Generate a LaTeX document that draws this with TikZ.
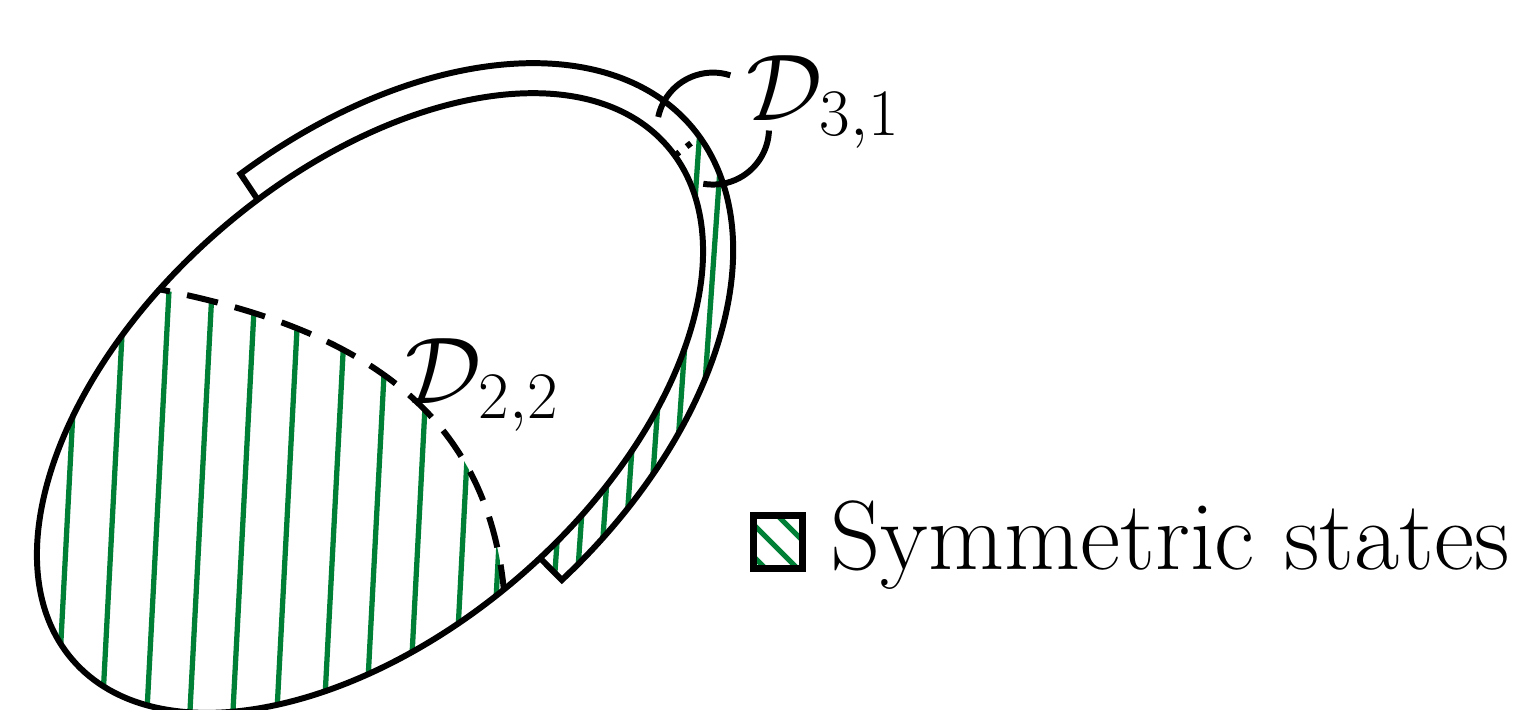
\RequirePackage{fix-cm}
\documentclass[tikz,border=0pt]{standalone}
\usetikzlibrary{calc}
\definecolor{hgreen}{RGB}{0,128,54}
\tikzset{
  bd/.style={line width=1.7pt},
  hatch/.style={draw=hgreen, line width=1.5pt},
  dsh/.style={line width=1.7pt, dash pattern=on 9pt off 5pt, dash phase=6pt},
  dtt/.style={line width=1.7pt, dash pattern=on 1.6pt off 2.6pt},
  lbl/.style={inner sep=0pt, font=\fontsize{27}{32}\selectfont},
}
\begin{document}
\begin{tikzpicture}
\useasboundingbox (0,0) rectangle (15.15,7.10);
\def\ea{3.93}\def\eb{2.29}\def\oa{4.24}\def\ob{2.60}\def\rot{40.8}
\coordinate (C) at (3.70,3.07);
\begin{scope}[shift={(C)},rotate=\rot]
  \coordinate (P0) at ({\ea*cos(102.5)},{\eb*sin(102.5)});
  \coordinate (P3) at ({\ea*cos(-93)},{\eb*sin(-93)});
  \coordinate (Di) at ({\ea*cos(-3)},{\eb*sin(-3)});
  \coordinate (Do) at ({\oa*cos(-3)},{\ob*sin(-3)});
\end{scope}
\coordinate (P1) at (3.365,3.857);
\coordinate (P2) at (4.846,3.14);
% main hatched region
\begin{scope}
  \clip[rotate around={\rot:(C)}] (C) ellipse[x radius=\ea, y radius=\eb];
  \clip (-1,4.60) -- (P0) .. controls (P1) and (P2) .. (P3) -- (6.2,-1) -- (-1,-1) -- cycle;
  \foreach \x in {0.631,1.081,1.528,1.958,2.388,2.828,3.301,3.722,4.149,4.596,4.96}{
    \draw[hatch] ({\x-0.0524*2.1},-1) -- ({\x+0.0524*6.9},8);
  }
\end{scope}
% band hatched region
\begin{scope}
  \clip[shift={(C)},rotate=\rot] ({\ea*cos(-3)},{\eb*sin(-3)})
      arc[start angle=-3, end angle=-86, x radius=\ea, y radius=\eb]
      -- ({\oa*cos(-86)},{\ob*sin(-86)})
      arc[start angle=-86, end angle=-3, x radius=\oa, y radius=\ob] -- cycle;
  \foreach \k in {-4,...,8}{
    \draw[hatch] ({5.67+0.228*\k-0.07*4.1},-1) -- ({5.67+0.228*\k+0.07*4.9},8);
  }
\end{scope}
% inner ellipse
\draw[bd, rotate around={\rot:(C)}] (C) ellipse[x radius=\ea, y radius=\eb];
% band outline
\draw[bd, shift={(C)}, rotate=\rot, line join=miter]
  ({\ea*cos(83)},{\eb*sin(83)}) -- ({\oa*cos(83)},{\ob*sin(83)})
  arc[start angle=83, end angle=-86, x radius=\oa, y radius=\ob]
  -- ({\ea*cos(-86)},{\eb*sin(-86)});
% dotted boundary in band
\draw[dtt] (Di) -- (Do);
% dashed boundary
\draw[dsh] (P0) .. controls (P1) and (P2) .. (P3);
% D_{3,1} circle arcs
\coordinate (c31) at (7.13,5.814);
\draw[bd] ([shift={(168:0.56)}]c31) arc[start angle=168, end angle=72, radius=0.56];
\draw[bd] ([shift={(-2:0.56)}]c31) arc[start angle=-2, end angle=-100, radius=0.56];
% labels
\node[lbl, anchor=base west] (d31) at (7.46,5.89) {$\mathcal{D}_{3,1}$};
\node[lbl, anchor=base west] (d22) at (4.05,3.06) {$\mathcal{D}_{2,2}$};
% legend
\begin{scope}
  \clip (7.535,1.415) rectangle (8.025,1.945);
  \foreach \c in {1.92,1.59,1.27}{
    \draw[hatch] ($(7.80,\c)+(-1,1)$) -- ($(7.80,\c)+(1,-1)$);
  }
\end{scope}
\draw[line width=2pt] (7.535,1.415) rectangle (8.025,1.945);
\node[lbl, anchor=base west, font=\fontsize{28}{33}\selectfont] (leg) at (8.30,1.40) {Symmetric states};
\end{tikzpicture}
\end{document}
